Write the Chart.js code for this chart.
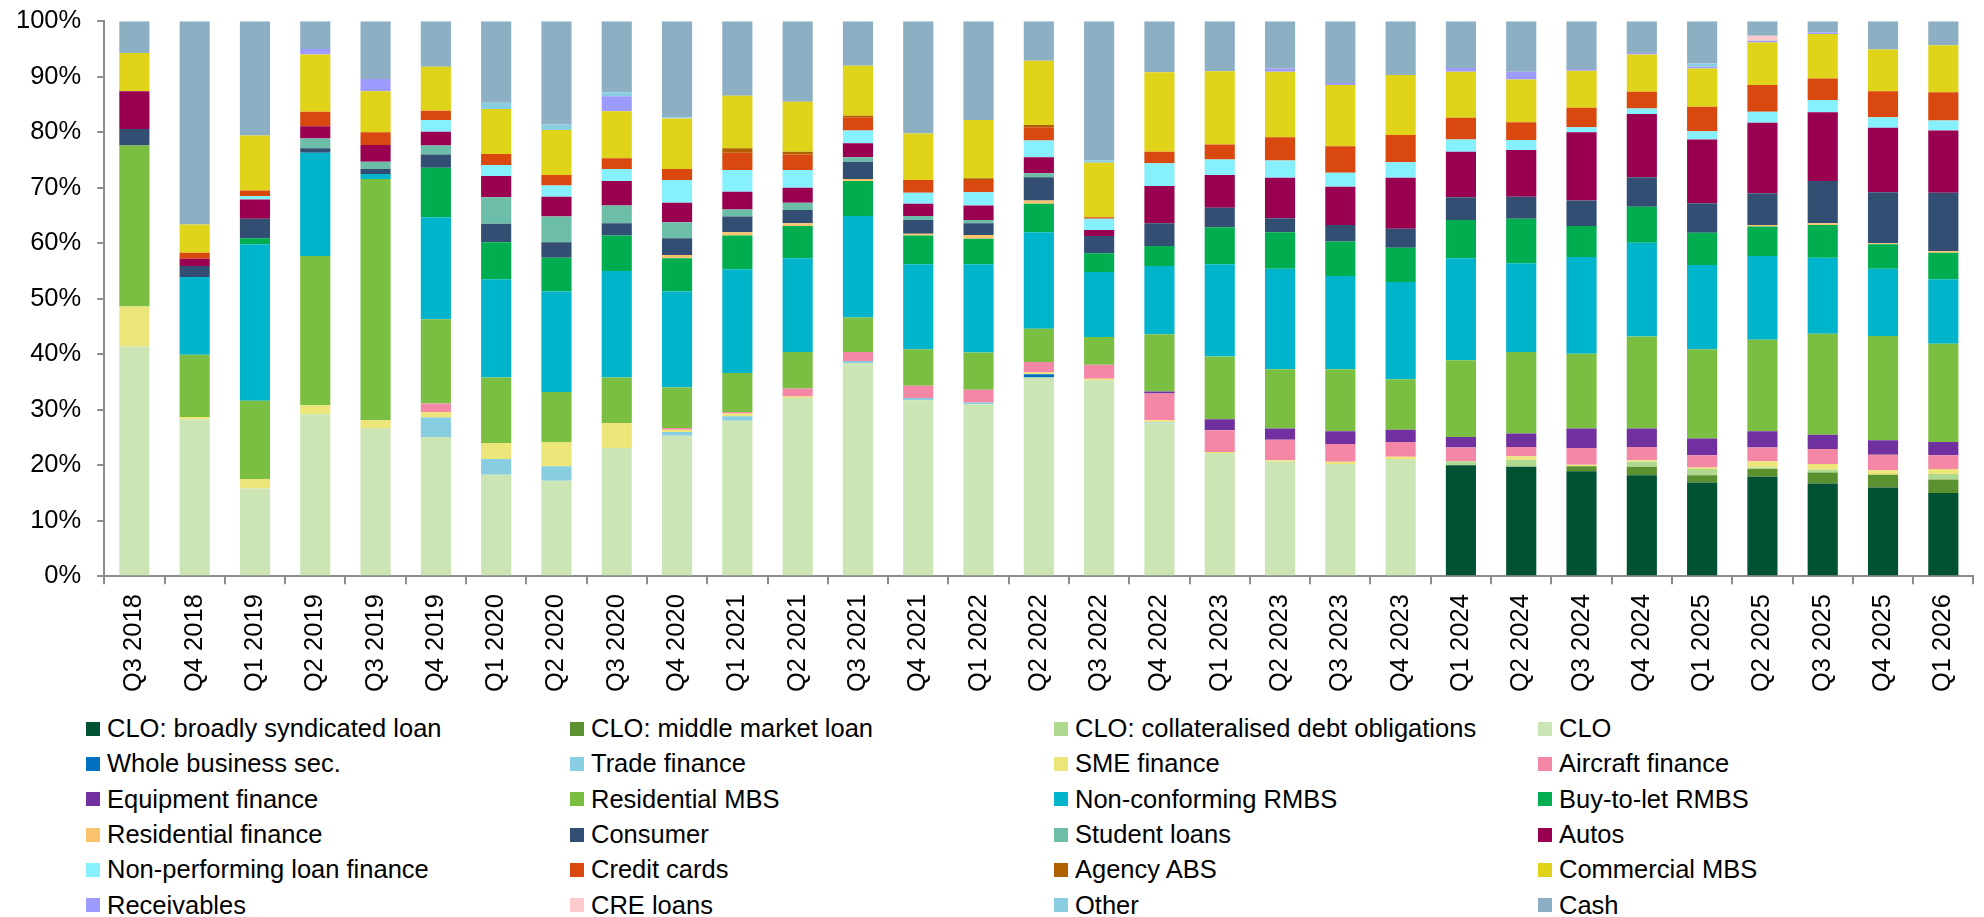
<!DOCTYPE html>
<html>
<head>
<meta charset="utf-8">
<script src="https://cdn.jsdelivr.net/npm/chart.js@4.4.1/dist/chart.umd.min.js"></script>
<style>
  html, body { margin: 0; padding: 0; background: #fff; overflow: hidden; }
  #wrap { position: relative; width: 1984px; height: 917px; overflow: hidden; }
  #chartBox { position: absolute; left: 0; top: -10px; width: 1984px; height: 712px; }
  #legend {
    position: absolute; left: 86px; top: 711px;
    display: grid; grid-template-columns: repeat(4, 484px); grid-auto-rows: 35.3px;
    font: 25.5px 'Liberation Sans', Arial, sans-serif; color: #000;
  }
  .item { display: flex; align-items: center; white-space: nowrap; }
  .swatch { width: 14px; height: 14px; margin-right: 7px; flex: none; }
</style>
</head>
<body>
<div id="wrap">
  <div id="chartBox"><canvas id="chart"></canvas></div>
  <div id="legend"></div>
</div>
<script>
const quarters = ['Q3 2018','Q4 2018','Q1 2019','Q2 2019','Q3 2019','Q4 2019','Q1 2020','Q2 2020','Q3 2020','Q4 2020',
  'Q1 2021','Q2 2021','Q3 2021','Q4 2021','Q1 2022','Q2 2022','Q3 2022','Q4 2022','Q1 2023','Q2 2023',
  'Q3 2023','Q4 2023','Q1 2024','Q2 2024','Q3 2024','Q4 2024','Q1 2025','Q2 2025','Q3 2025','Q4 2025','Q1 2026'];

// share of holdings, % (bottom of the stack first)
const cloBsl = [0,0,0,0,0,0,0,0,0,0, 0,0,0,0,0,0,0,0,0,0, 0,0,20.0,19.7,18.9,18.2,16.9,17.9,16.7,16.0,15.0];
const cloMml = [0,0,0,0,0,0,0,0,0,0, 0,0,0,0,0,0,0,0,0,0, 0,0,0,0,0.9,1.5,1.3,1.4,2.0,2.3,2.4];
const cloCdo = [0,0,0,0,0,0,0,0,0,0, 0,0,0,0,0,0,0,0,0,0, 0,0,0.7,1.3,0,0.9,1.1,0.3,0.5,0,1.0];
const clo = [41.4,28.3,15.8,29.2,26.7,25.1,18.3,17.2,23.1,25.3, 28.0,32.1,38.4,31.7,31.0,35.8,35.3,27.5,22.2,20.6, 20.2,21.1,0,0,0,0,0,0,0,0,0];
const wholeBusiness = [0,0,0,0,0,0,0,0,0,0, 0,0,0,0,0,0.6,0,0,0,0, 0,0,0,0,0,0,0,0,0,0,0];
const tradeFinance = [0,0,0,0,0,3.5,2.8,2.6,0,0.7, 0.8,0,0.4,0.4,0.3,0,0,0.2,0,0, 0,0,0,0,0,0,0,0,0,0,0];
const smeFinance = [7.2,0.4,1.7,1.6,1.4,1.0,2.9,4.4,4.5,0.4, 0.5,0.3,0,0,0,0.3,0.3,0.4,0.2,0.3, 0.4,0.4,0,0.6,0.3,0.3,0.3,1.1,1.0,0.8,0.9];
const aircraft = [0,0,0,0,0,1.5,0,0,0,0.3, 0.3,1.4,1.6,2.2,2.3,1.9,2.5,4.8,3.9,3.7, 3.2,2.7,2.5,1.7,3.0,2.4,2.2,2.5,2.7,2.8,2.5];
const equipment = [0,0,0,0,0,0,0,0,0,0, 0,0,0,0,0,0,0,0.4,2.0,2.0, 2.3,2.2,1.9,2.4,3.5,3.3,3.0,2.9,2.6,2.6,2.4];
const resMbs = [29.0,11.2,14.1,26.9,43.5,15.2,11.8,9.0,8.2,7.3, 7.0,6.6,6.2,6.6,6.7,6.0,5.0,10.3,11.3,10.7, 11.2,9.1,13.8,14.7,13.5,16.6,16.1,16.5,18.2,18.8,17.7];
const nonConforming = [0,14.0,28.2,18.6,0.9,18.4,17.7,18.1,19.2,17.3, 18.7,16.9,18.3,15.3,15.9,17.4,11.7,12.3,16.6,18.1, 16.8,17.5,18.4,16.0,17.4,16.9,15.2,15.1,13.7,12.1,11.6];
const buyToLet = [0,0,1.1,0,0,8.9,6.7,6.1,6.4,6.0, 6.1,5.8,6.3,5.2,4.6,5.1,3.4,3.6,6.7,6.6, 6.2,6.2,6.9,8.0,5.6,6.5,5.8,5.3,5.9,4.4,4.8];
const resFinance = [0,0,0,0,0,0,0,0,0,0.6, 0.6,0.5,0.4,0.3,0.7,0.6,0,0,0,0, 0,0,0,0,0,0,0,0.3,0.3,0.2,0.3];
const consumer = [3.0,2.0,3.5,0.8,0.9,2.4,3.3,2.8,2.2,3.0, 2.8,2.4,3.1,2.5,2.1,4.2,3.1,4.1,3.5,2.5, 3.0,3.4,4.1,4.0,4.6,5.3,5.3,5.7,7.6,9.2,10.5];
const student = [0,0,0,1.8,1.3,1.6,4.8,4.6,3.2,2.9, 1.3,1.3,0.8,0.7,0.6,0.7,0,0,0,0, 0,0,0,0,0,0,0,0,0,0,0];
const autos = [6.8,1.3,3.5,2.2,3.0,2.5,3.8,3.6,4.4,3.5, 3.2,2.7,2.5,2.2,2.6,2.9,1.1,6.7,5.9,7.3, 6.9,9.2,8.2,8.4,12.3,11.4,11.5,12.7,12.4,11.6,11.2];
const npl = [0,0,0.6,0,0,2.1,2.0,2.0,2.2,4.1, 3.9,3.2,2.3,2.0,2.4,3.0,2.0,4.1,2.8,3.1, 2.5,2.8,2.2,1.8,0.9,1.0,1.5,2.0,2.2,1.9,1.8];
const creditCards = [0,1.1,1.0,2.6,2.3,1.7,2.0,1.9,1.9,2.0, 3.1,2.8,2.4,2.3,2.2,2.4,0.3,2.1,2.7,4.2, 4.8,4.9,3.9,3.2,3.5,3.0,4.4,4.8,3.9,4.7,5.1];
const agencyAbs = [0,0,0,0,0,0,0,0,0,0, 0.8,0.5,0.3,0,0.3,0.4,0,0,0,0, 0,0,0,0,0,0,0,0,0,0,0];
const cmbs = [6.9,5.1,9.9,10.3,7.4,7.9,8.1,8.1,8.5,9.1, 9.5,9.0,9.0,8.4,10.5,11.6,9.8,14.3,13.2,11.8, 11.0,10.8,8.3,7.7,6.7,6.7,6.9,7.7,8.0,7.5,8.5];
const receivables = [0,0,0,1.0,2.2,0,0,0,2.7,0, 0,0,0,0,0,0,0,0,0,0.6, 0.4,0,0.7,1.4,0.3,0.3,0.3,0.3,0.3,0,0];
const creLoans = [0,0,0,0,0,0,0,0,0,0, 0,0,0,0,0,0,0,0,0,0, 0,0,0,0,0,0,0,0.9,0,0,0];
const other = [0,0,0,0,0,0,1.1,1.0,0.7,0.2, 0,0,0,0,0,0,0.4,0,0,0, 0,0,0,0,0,0,0.6,0,0,0,0];
const cash = [5.7,36.6,20.6,5.0,10.4,8.2,14.7,18.6,12.8,17.3, 13.4,14.5,8.0,20.2,17.8,7.1,25.1,9.2,9.0,8.5, 11.1,9.7,8.4,9.1,8.6,5.7,7.6,2.6,2.0,5.1,4.3];

const series = [
  ['CLO: broadly syndicated loan', cloBsl, '#005232'],
  ['CLO: middle market loan', cloMml, '#5b922f'],
  ['CLO: collateralised debt obligations', cloCdo, '#afd98e'],
  ['CLO', clo, '#cbe6b4'],
  ['Whole business sec.', wholeBusiness, '#0070c0'],
  ['Trade finance', tradeFinance, '#88cee0'],
  ['SME finance', smeFinance, '#ebe57a'],
  ['Aircraft finance', aircraft, '#f387a5'],
  ['Equipment finance', equipment, '#7030a0'],
  ['Residential MBS', resMbs, '#7bbf42'],
  ['Non-conforming RMBS', nonConforming, '#00b4cc'],
  ['Buy-to-let RMBS', buyToLet, '#00ad4f'],
  ['Residential finance', resFinance, '#f9c46b'],
  ['Consumer', consumer, '#324f73'],
  ['Student loans', student, '#6cbea8'],
  ['Autos', autos, '#990050'],
  ['Non-performing loan finance', npl, '#86f0fc'],
  ['Credit cards', creditCards, '#d9490f'],
  ['Agency ABS', agencyAbs, '#b06000'],
  ['Commercial MBS', cmbs, '#e0d41a'],
  ['Receivables', receivables, '#9e9bff'],
  ['CRE loans', creLoans, '#fccaca'],
  ['Other', other, '#88cee0'],
  ['Cash', cash, '#8dafc3']
];

Chart.defaults.font.family = "'Liberation Sans', Arial, sans-serif";
Chart.defaults.font.size = 25.5;
Chart.defaults.color = '#000';

const axisGrey = '#8c8c8c';

const chart = new Chart(document.getElementById('chart'), {
  type: 'bar',
  data: {
    labels: quarters,
    datasets: series.map(([label, data, color]) => ({
      label,
      data,
      backgroundColor: color,
      borderWidth: 0,
      categoryPercentage: 0.5,
      barPercentage: 1
    }))
  },
  options: {
    responsive: true,
    maintainAspectRatio: false,
    animation: false,
    layout: { padding: { left: 0, right: 5, top: 0, bottom: 0 } },
    plugins: { legend: { display: false }, tooltip: { enabled: false } },
    scales: {
      x: {
        stacked: true,
        grid: { drawOnChartArea: false, color: axisGrey, lineWidth: 2, tickLength: 8 },
        border: { color: axisGrey, width: 2 },
        ticks: { minRotation: 90, maxRotation: 90, padding: 10, autoSkip: false }
      },
      y: {
        stacked: true,
        min: 0,
        max: 100,
        grid: { drawOnChartArea: false, color: axisGrey, lineWidth: 2, tickLength: 7 },
        border: { color: axisGrey, width: 2 },
        ticks: { stepSize: 10, padding: 16, callback: v => v + '%' }
      }
    }
  }
});

// Legend as a 4-column grid, built from the chart's datasets
const legendEl = document.getElementById('legend');
chart.data.datasets.forEach(ds => {
  const item = document.createElement('div');
  item.className = 'item';
  const sw = document.createElement('span');
  sw.className = 'swatch';
  sw.style.background = ds.backgroundColor;
  const txt = document.createElement('span');
  txt.textContent = ds.label;
  item.appendChild(sw);
  item.appendChild(txt);
  legendEl.appendChild(item);
});
</script>
</body>
</html>
